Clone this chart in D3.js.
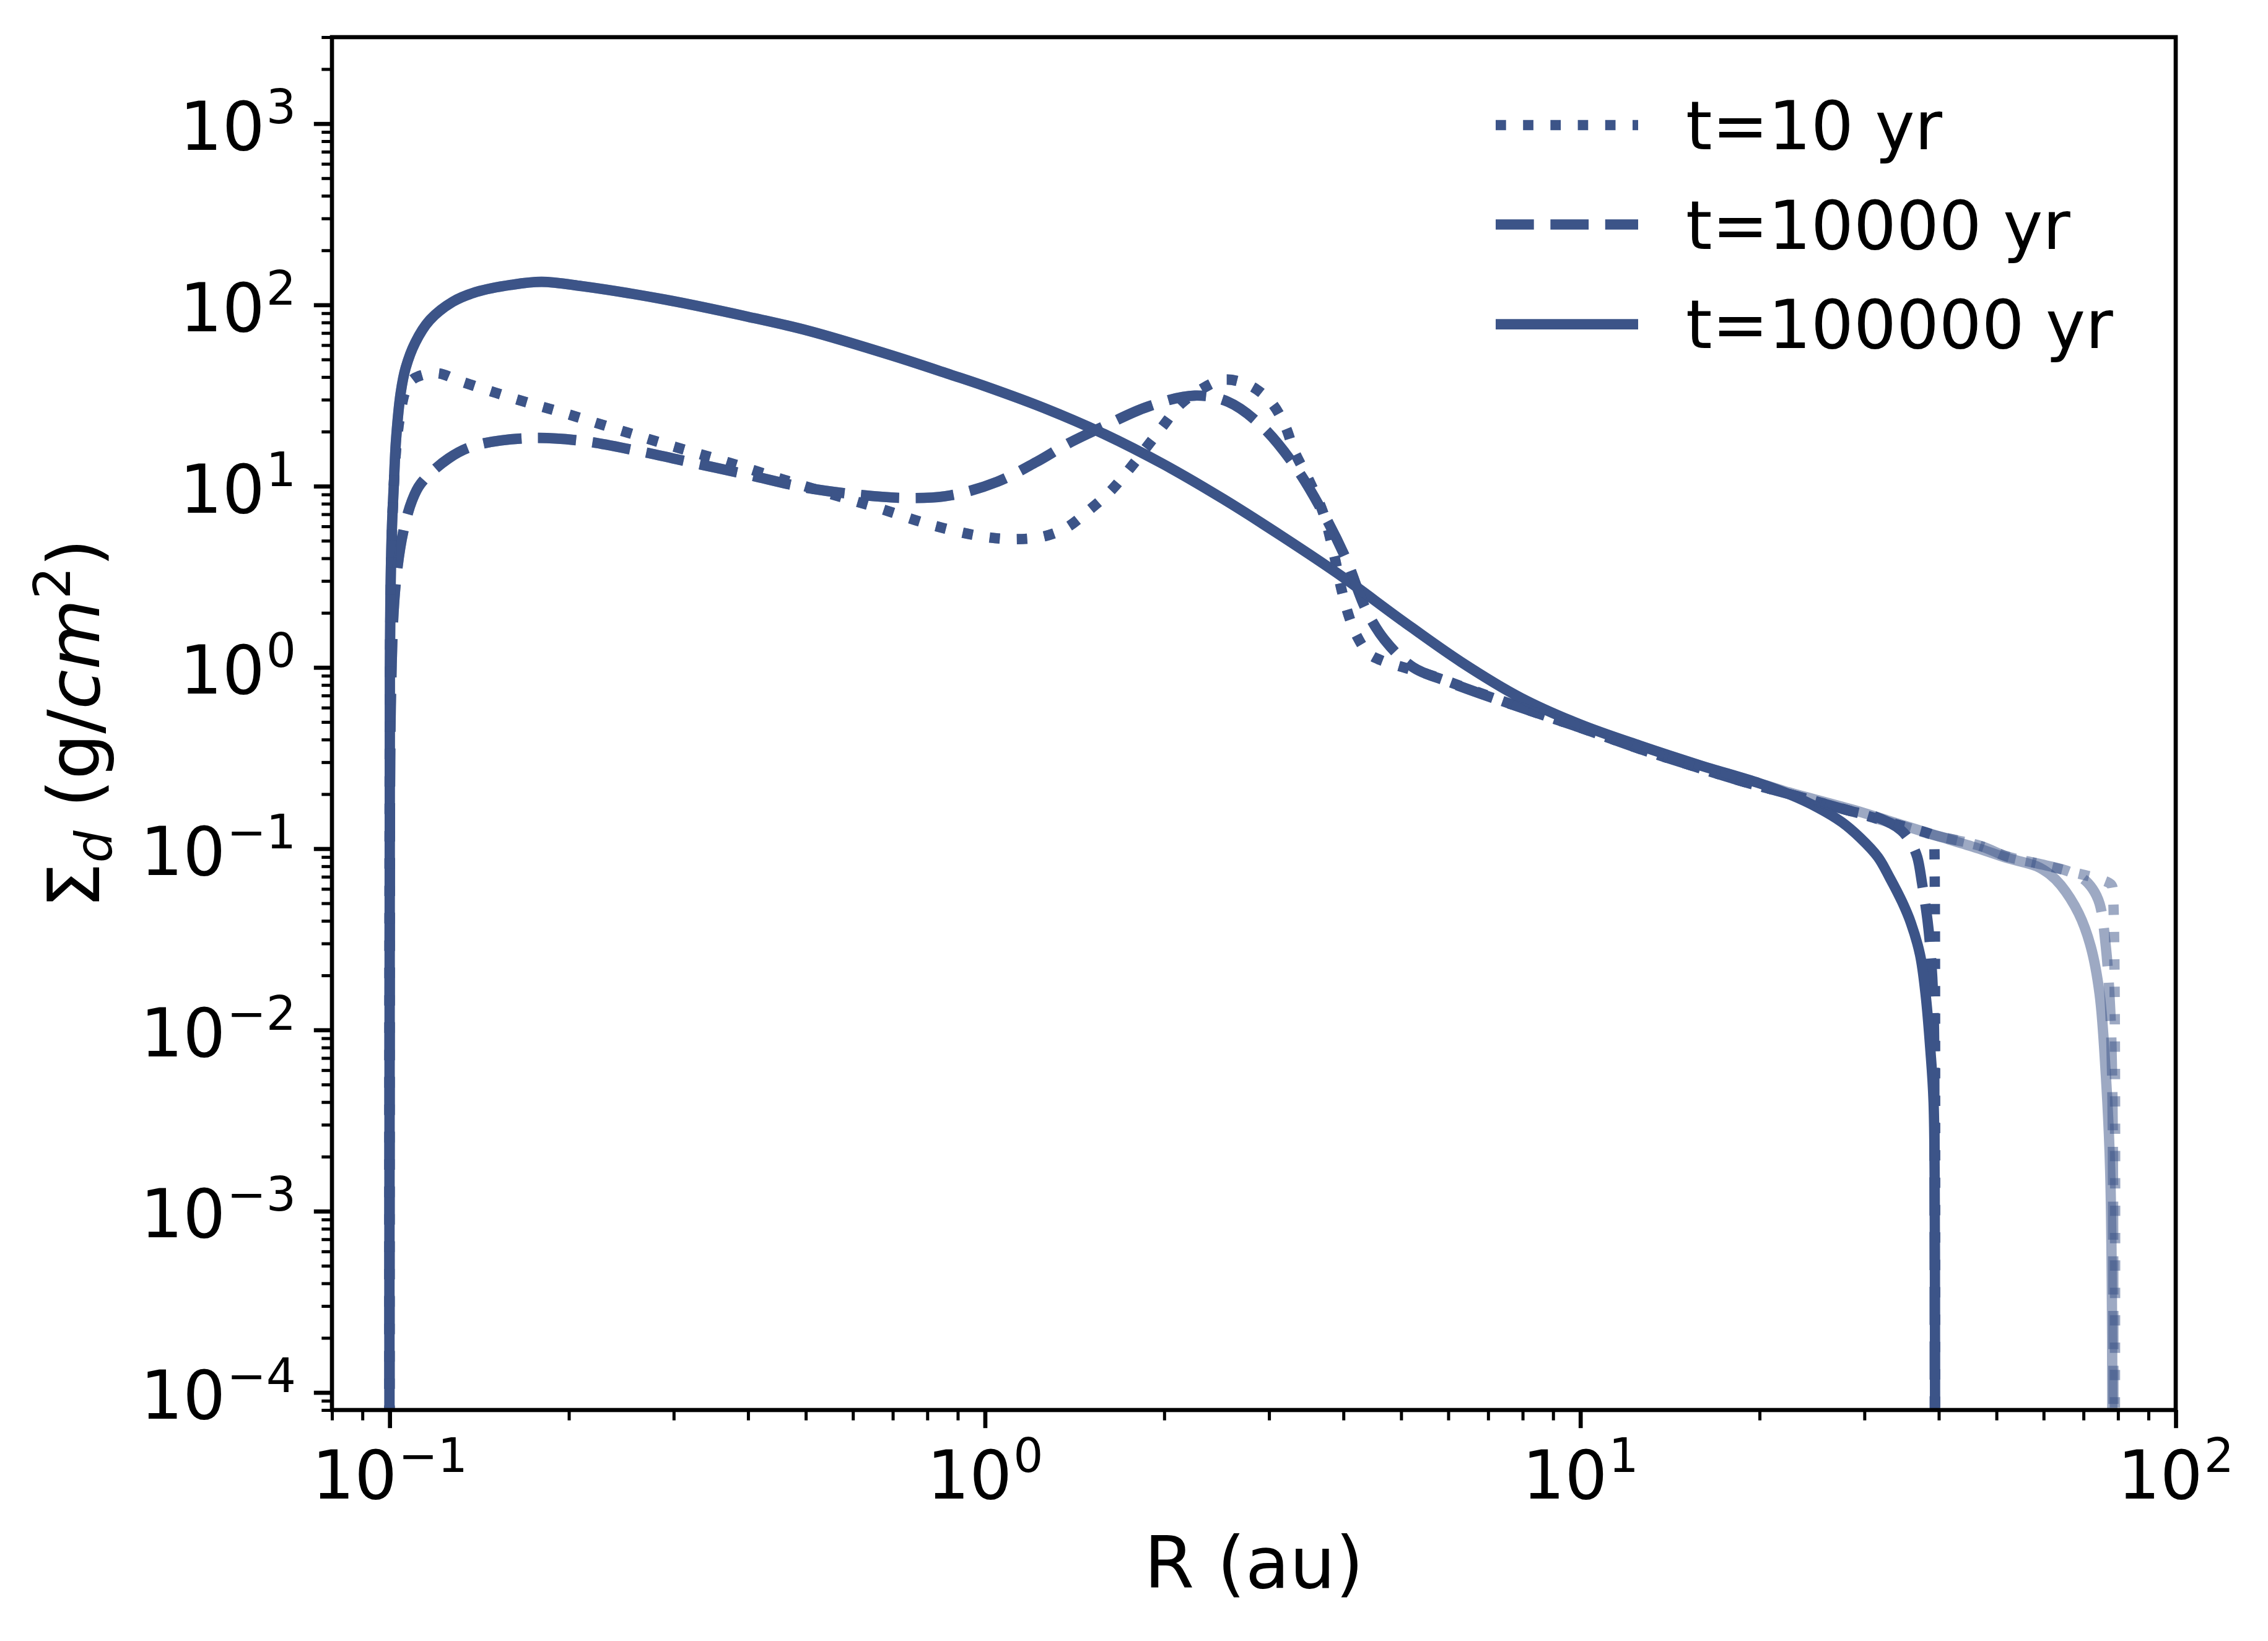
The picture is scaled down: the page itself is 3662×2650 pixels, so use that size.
<!DOCTYPE html>
<html>
<head>
<meta charset="utf-8">
<script src="https://cdn.jsdelivr.net/npm/d3@7"></script>
<style>
  body { margin: 0; background: #ffffff; }
  svg { display: block; }
  text { font-family: "DejaVu Sans", sans-serif; fill: #000; }
</style>
</head>
<body>
<script>
// ---------------- DATA ----------------
// [R (au), Sigma_d (g/cm^2)]
const t10Inner = [
  [0.1,1e-7],[0.10005,0.5],[0.1003,2],[0.1008,5],[0.1016,10],[0.1027,17],[0.1044,26],
  [0.1065,34],[0.1095,39],[0.12,42],[0.1324,37.6],[0.162,30.4],[0.198,25.1],[0.243,20.4],
  [0.297,16.7],[0.363,13.8],[0.453,11.0],[0.554,9.0],[0.665,7.54],[0.814,6.1],[0.996,5.26],
  [1.13,5.1],[1.26,5.3],[1.37,5.9],[1.49,7.3],[1.62,9.3],[1.74,12.2],[1.98,21],[2.13,28.3],
  [2.3,34],[2.52,38.7],[2.78,36],[3.02,29.2],[3.19,21.6],[3.31,15.5],[3.50,10.8],[3.70,7.1],
  [3.85,4.3],[3.98,2.6],[4.10,1.85],[4.20,1.52],[4.40,1.20],[4.61,1.10],[5.05,1.0],
  [5.53,0.92],[6.29,0.79]
];
const t10000Inner = [
  [0.1,1e-7],[0.1002,0.3],[0.1006,0.8],[0.1015,2],[0.103,3.5],[0.1054,5.6],[0.109,8.3],
  [0.1127,10.3],[0.1255,14.2],[0.1387,16.7],[0.1706,18.4],[0.2097,17.8],[0.2597,15.7],
  [0.3215,13.5],[0.398,11.6],[0.493,9.9],[0.607,9.0],[0.743,8.6],[0.876,8.9],[1.05,10.6],
  [1.22,13.6],[1.38,17.2],[1.56,20.9],[1.88,27.5],[2.25,31.6],[2.56,29.2],[2.91,21.6],
  [3.31,13.0],[3.70,7.1],[4.05,3.9],[4.36,2.1],[4.69,1.42],[5.24,1.0],[5.96,0.84],[6.77,0.72]
];
const t100000Inner = [
  [0.1,1e-7],[0.10008,1],[0.1004,3],[0.1009,6],[0.1016,10],[0.1025,18],[0.1044,33],
  [0.1064,45],[0.1104,62],[0.1166,82],[0.1276,104],[0.140,118],[0.16,129],[0.18,134],
  [0.21,127],[0.29,107],[0.40,86],[0.505,72],[0.70,52.4],[0.876,41.2],[1.0,35.6],
  [1.259,26.9],[1.585,19.4],[1.995,13.2],[2.512,8.5],[3.162,5.26],[3.98,3.17],[5.01,1.82],
  [6.31,1.07],[7.94,0.68],[10,0.484],[12.59,0.37],[15.85,0.289],[19.95,0.23]
];
// common outer power-law part of t=10 and t=10000
const outerShared = [
  [8.26,0.575],[10,0.465],[12.5,0.358],[15.5,0.285],[18.9,0.233],[23.5,0.192],[28.5,0.161]
];
// tails, disc edge near 40 au (opaque) and near 80 au (faded)
const t10Tail40 = [[34,0.136],[39.0,0.119],[39.25,0.116],[39.33,0.1],[39.35,1e-7]];
const t10Tail80 = [[34,0.136],[39.6,0.118],[47.2,0.103],[52,0.0906],[58.4,0.083],
  [65.6,0.0756],[75.4,0.067],[78.0,0.063],[78.45,0.056],[78.5,1e-7]];
const t10000Tail40 = [[31.5,0.149],[34.6,0.126],[36,0.106],[36.8,0.090],[37.5,0.064],
  [38.3,0.040],[38.8,0.0255],[39.2,0.013],[39.33,0.003],[39.37,1e-7]];
const t10000Tail80 = [[34,0.136],[39.6,0.118],[47.2,0.103],[52,0.0906],[58.4,0.083],
  [65.6,0.0756],[70,0.068],[72.5,0.060],[74.5,0.0497],[76.3,0.029],[77.6,0.0132],
  [78.3,0.004],[78.45,1e-7]];
const t100000Tail40 = [[22.4,0.20],[25.1,0.168],[27.5,0.140],[29.5,0.115],[31.6,0.090],
  [33.1,0.069],[34.7,0.051],[35.9,0.039],[37.2,0.026],[38.0,0.0158],[38.7,0.0079],
  [39.2,0.004],[39.4,6e-4],[39.42,1e-7]];
const t100000Tail80 = [[22,0.208],[28.5,0.165],[35,0.134],[40,0.117],[46.3,0.101],
  [52,0.089],[58.4,0.080],[61.5,0.072],[64.1,0.063],[68.7,0.044],[72,0.0288],[74.5,0.0158],
  [76.3,0.0057],[77.6,0.0017],[78.2,2e-4],[78.35,1e-7]];

const legendLabels = ["t=10 yr", "t=10000 yr", "t=100000 yr"];
const xMajorTicks = [0.1, 1, 10, 100];
const xMajorExp   = ["\u22121", "0", "1", "2"];
const yMajorTicks = [1e-4, 1e-3, 1e-2, 1e-1, 1, 10, 100, 1000];
const yMajorExp   = ["\u22124", "\u22123", "\u22122", "\u22121", "0", "1", "2", "3"];
const xDomain = [0.08, 100];
const yDomain = [8e-5, 3000];

// ---------------- LAYOUT ----------------
const W = 3662, H = 2650;
const L = 536, R = 3513, T = 60, B = 2277;
const color = "#3C5488";
const lw = 16.67;
const fs = 108.3, fsSup = 75.8, fsLab = 116.7;
const dotted = "16.7 27.5", dashed = "61.7 26.7";

const svg = d3.select("body").append("svg").attr("width", W).attr("height", H)
  .attr("viewBox", `0 0 ${W} ${H}`);
svg.append("rect").attr("width", W).attr("height", H).attr("fill", "#fff");

const x = d3.scaleLog().domain(xDomain).range([L, R]);
const y = d3.scaleLog().domain(yDomain).range([B, T]);

svg.append("defs").append("clipPath").attr("id", "clip")
  .append("rect").attr("x", L).attr("y", T).attr("width", R - L).attr("height", B - T);

const line = d3.line().x(d => x(d[0])).y(d => y(d[1])).curve(d3.curveCatmullRom.alpha(0.5));

const series = [
  { data: t10Inner.concat(outerShared, t10Tail40), dash: dotted, op: 1 },
  { data: t10000Inner.concat(outerShared, t10000Tail40), dash: dashed, op: 1 },
  { data: t100000Inner.concat(t100000Tail40), dash: null, op: 1 },
  { data: t10Inner.concat(outerShared, t10Tail80), dash: dotted, op: 0.5 },
  { data: t10000Inner.concat(outerShared, t10000Tail80), dash: dashed, op: 0.5 },
  { data: t100000Inner.concat(t100000Tail80), dash: null, op: 0.5 }
];

const gLines = svg.append("g").attr("clip-path", "url(#clip)");
series.forEach(s => {
  gLines.append("path").attr("d", line(s.data))
    .attr("fill", "none").attr("stroke", color).attr("stroke-width", lw)
    .attr("stroke-opacity", s.op)
    .attr("stroke-linecap", "butt").attr("stroke-linejoin", "round")
    .attr("stroke-dasharray", s.dash);
});

// ---------------- AXES ----------------
function minorTicks(domain) {
  const out = [];
  for (let e = -6; e <= 4; e++) {
    for (let k = 2; k <= 9; k++) {
      const v = k * Math.pow(10, e);
      if (v >= domain[0] * 0.9999 && v <= domain[1] * 1.0001) out.push(v);
    }
  }
  return out;
}

const xAxisMajor = d3.axisBottom(x).tickValues(xMajorTicks).tickSize(29.2).tickFormat("");
const xAxisMinor = d3.axisBottom(x).tickValues(minorTicks(xDomain)).tickSize(16.7).tickFormat("");
const yAxisMajor = d3.axisLeft(y).tickValues(yMajorTicks).tickSize(29.2).tickFormat("");
const yAxisMinor = d3.axisLeft(y).tickValues(minorTicks(yDomain)).tickSize(16.7).tickFormat("");

function styleAxis(g, w) {
  g.select(".domain").remove();
  g.selectAll(".tick line").attr("stroke", "#000").attr("stroke-width", w);
}
svg.append("g").attr("transform", `translate(0,${B})`).call(xAxisMinor).call(g => styleAxis(g, 5));
svg.append("g").attr("transform", `translate(0,${B})`).call(xAxisMajor).call(g => styleAxis(g, 6.67));
svg.append("g").attr("transform", `translate(${L},0)`).call(yAxisMinor).call(g => styleAxis(g, 5));
svg.append("g").attr("transform", `translate(${L},0)`).call(yAxisMajor).call(g => styleAxis(g, 6.67));

// spines
svg.append("rect").attr("x", L).attr("y", T).attr("width", R - L).attr("height", B - T)
  .attr("fill", "none").attr("stroke", "#000").attr("stroke-width", 6.67)
  .attr("stroke-linejoin", "miter");

// tick labels
function powLabel(g, px, py, exp, anchor) {
  const t = g.append("text").attr("x", px).attr("y", py).attr("font-size", fs)
    .attr("text-anchor", anchor);
  t.append("tspan").text("10");
  t.append("tspan").attr("font-size", fsSup).attr("dy", -43).attr("dx", 2).text(exp);
}
const gxl = svg.append("g");
xMajorTicks.forEach((v, i) => powLabel(gxl, x(v), 2420, xMajorExp[i], "middle"));
const gyl = svg.append("g");
yMajorTicks.forEach((v, i) => powLabel(gyl, 478, y(v) + 42.5, yMajorExp[i], "end"));

// axis labels
svg.append("text").attr("x", (L + R) / 2).attr("y", 2564).attr("text-anchor", "middle")
  .attr("font-size", fsLab).text("R (au)");

const yl = svg.append("text").attr("transform", `translate(160,${(T + B) / 2}) rotate(-90)`)
  .attr("text-anchor", "middle").attr("font-size", fsLab);
yl.append("tspan").text("\u03A3");
yl.append("tspan").attr("font-size", fsLab * 0.7).attr("font-style", "italic").attr("dy", 20).text("d");
yl.append("tspan").attr("dy", -20).text(" (g/");
yl.append("tspan").attr("font-style", "italic").text("cm");
yl.append("tspan").attr("font-size", fsLab * 0.7).attr("dy", -47).text("2");
yl.append("tspan").attr("dy", 47).text(")");

// legend
const legStyles = [dotted, dashed, null];
const legLineY = [202, 362.5, 523.6];
const legTextY = [241, 402, 562];
const gl = svg.append("g");
legendLabels.forEach((lab, i) => {
  gl.append("line").attr("x1", 2415).attr("x2", 2645).attr("y1", legLineY[i]).attr("y2", legLineY[i])
    .attr("stroke", color).attr("stroke-width", lw).attr("stroke-linecap", "butt")
    .attr("stroke-dasharray", legStyles[i]);
  gl.append("text").attr("x", 2722).attr("y", legTextY[i]).attr("font-size", fs).text(lab);
});
</script>
</body>
</html>
